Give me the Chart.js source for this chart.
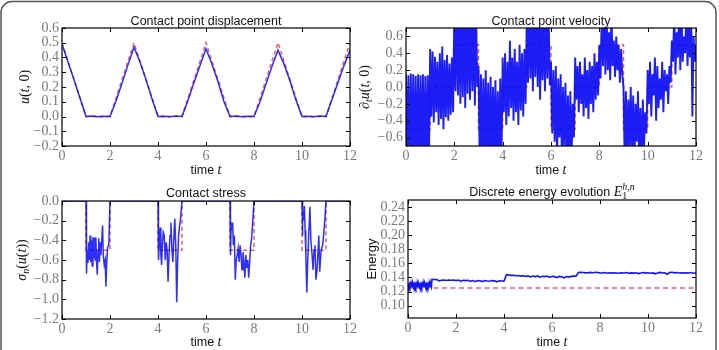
<!DOCTYPE html>
<html>
<head>
<meta charset="utf-8">
<script src="https://cdn.jsdelivr.net/npm/chart.js@4.4.0/dist/chart.umd.min.js"></script>
<style>
body { margin: 0; background: #fff; }
#wrap { position: relative; width: 719px; height: 350px; overflow: hidden; }
#wrap canvas { position: absolute; left: 0; top: 0; }
</style>
</head>
<body>
<div id="wrap">
<canvas id="c_disp" width="719" height="350"></canvas>
<canvas id="c_vel" width="719" height="350"></canvas>
<canvas id="c_stress" width="719" height="350"></canvas>
<canvas id="c_energy" width="719" height="350"></canvas>
</div>
<script>
const SANS = '"Liberation Sans", Arial, sans-serif'
const SERIF = '"Liberation Serif", "Times New Roman", serif'
const TICK_COLOR = '#7a7a7a'
const BLUE = 'rgba(0, 0, 255, 0.82)'
const BLUE_DENSE = 'rgba(10, 10, 245, 0.92)'
const BLUE_SOLID = '#1515f0'
const RED = 'rgba(228, 60, 60, 0.8)'

// shared time axis
const timeTicks = [0, 2, 4, 6, 8, 10, 12]

// contact point displacement, numeric every 0.25
const dispStep = 0.25
const dispNum = [
    0.49, 0.37, 0.25, 0.125, 0.0, 0.003, -0.002, 0.002,
    0.0, 0.105, 0.225, 0.35, 0.47, 0.37, 0.25, 0.12,
    0.0, 0.002, -0.002, 0.003, 0.0, 0.11, 0.23, 0.345,
    0.46, 0.355, 0.235, 0.10, 0.0, 0.003, -0.002, 0.002,
    0.0, 0.10, 0.22, 0.34, 0.45, 0.355, 0.24, 0.11,
    0.0, 0.002, -0.002, 0.003, 0.0, 0.115, 0.23, 0.345,
    0.45
]
const dispExactT = [0, 1, 2, 3, 4, 5, 6, 7, 8, 9, 10, 11, 12]
const dispExactU = [0.5, 0, 0, 0.5, 0, 0, 0.5, 0, 0, 0.5, 0, 0, 0.5]
const dispTicks = [-0.2, -0.1, 0, 0.1, 0.2, 0.3, 0.4, 0.5, 0.6]

// contact point velocity, one high and one low every 0.1
const velStep = 0.1
const velHigh = [
    0.15, 0.14, 0.16, 0.15, 0.13, 0.15, 0.14, 0.15, 0.13, 0.14,
    0.45, 0.42, 0.36, 0.30, 0.40, 0.48, 0.32, 0.38, 0.28, 0.35,
    0.90, 0.90, 0.90, 0.90, 0.90, 0.90, 0.90, 0.90, 0.90, 0.90,
    0.25, 0.15, 0.10, 0.20, 0.05, 0.12, 0.00, 0.08, -0.05, 0.10,
    0.35, 0.40, 0.30, 0.55, 0.35, 0.45, 0.30, 0.50, 0.40, 0.45,
    0.90, 0.90, 0.90, 0.90, 0.90, 0.90, 0.90, 0.90, 0.90, 0.90,
    0.30, 0.20, 0.25, 0.10, 0.15, 0.00, 0.05, -0.10, -0.05, -0.20,
    0.35, 0.25, 0.30, 0.15, 0.35, 0.20, 0.30, 0.25, 0.40, 0.30,
    0.50, 0.90, 0.90, 0.90, 0.65, 0.90, 0.55, 0.60, 0.50, 0.45,
    0.00, -0.05, -0.15, 0.00, -0.10, -0.20, -0.05, -0.25, -0.15, -0.30,
    0.20, 0.30, 0.15, 0.35, 0.25, 0.10, 0.30, 0.20, 0.15, 0.25,
    0.55, 0.90, 0.65, 0.90, 0.90, 0.60, 0.90, 0.70, 0.90, 0.60
]
const velLow = [
    -0.90, -0.90, -0.90, -0.90, -0.90, -0.90, -0.90, -0.90, -0.90, -0.90,
    -0.35, -0.42, -0.30, -0.45, -0.38, -0.50, -0.36, -0.40, -0.33, -0.30,
    -0.05, -0.10, -0.20, -0.12, -0.25, -0.08, -0.15, -0.05, -0.22, 0.00,
    -0.90, -0.90, -0.90, -0.90, -0.90, -0.90, -0.90, -0.90, -0.90, -0.90,
    -0.30, -0.45, -0.35, -0.25, -0.40, -0.30, -0.45, -0.28, -0.35, -0.20,
    0.05, 0.10, -0.05, 0.12, 0.00, -0.15, 0.08, -0.05, 0.10, 0.02,
    -0.55, -0.65, -0.90, -0.60, -0.90, -0.70, -0.90, -0.90, -0.90, -0.60,
    -0.15, -0.30, -0.20, -0.35, -0.25, -0.38, -0.20, -0.30, -0.15, -0.10,
    0.10, 0.25, 0.15, 0.20, 0.08, 0.25, 0.12, 0.20, 0.05, 0.15,
    -0.90, -0.90, -0.70, -0.90, -0.90, -0.65, -0.90, -0.90, -0.70, -0.55,
    -0.20, -0.35, -0.10, -0.40, -0.25, -0.15, -0.30, -0.05, -0.20, 0.05,
    0.30, 0.15, 0.35, 0.20, 0.30, 0.40, 0.25, 0.35, -0.35, 0.30
]
const velEnd = 0.5
const velExactT = [0, 1, 1, 2, 2, 3, 3, 4, 4, 5, 5, 6, 6, 7, 7, 8, 8, 9, 9, 10, 10, 11, 11, 12]
const velExactV = [-0.5, -0.5, 0, 0, 0.5, 0.5, -0.5, -0.5, 0, 0, 0.5, 0.5, -0.5, -0.5, 0, 0, 0.5, 0.5, -0.5, -0.5, 0, 0, 0.5, 0.5]
const velTicks = [-0.6, -0.4, -0.2, 0, 0.2, 0.4, 0.6]

// contact stress, [t, sigma]
const stressPts = [
    [0, 0], [1.00, 0],
    [1.02, -0.74], [1.05, -0.50], [1.08, -0.63], [1.11, -0.42], [1.14, -0.60], [1.17, -0.35],
    [1.20, -0.62], [1.23, -0.40], [1.26, -0.66], [1.29, -0.37], [1.32, -0.58], [1.35, -0.37],
    [1.38, -0.60], [1.41, -0.37], [1.44, -0.62], [1.47, -0.75], [1.50, -0.50], [1.53, -0.38],
    [1.56, -0.62], [1.59, -0.42], [1.62, -0.55], [1.66, -0.38], [1.69, -0.25], [1.72, -0.55],
    [1.76, -0.65], [1.80, -0.60], [1.83, -0.87], [1.86, -0.65], [1.90, -0.47], [1.95, -0.45],
    [2.00, 0], [4.00, 0],
    [4.02, -0.60], [4.06, -0.40], [4.09, -0.27], [4.12, -0.55], [4.15, -0.65], [4.18, -0.45],
    [4.22, -0.32], [4.26, -0.35], [4.30, -0.60], [4.34, -0.42], [4.38, -0.50], [4.42, -0.82],
    [4.46, -0.55], [4.50, -0.35], [4.54, -0.22], [4.58, -0.50], [4.62, -0.62], [4.66, -0.38],
    [4.70, -0.18], [4.74, -0.45], [4.78, -1.03], [4.82, -0.60], [4.86, -0.35], [4.90, -0.25],
    [4.93, -0.20], [4.96, -0.12], [5.00, 0], [7.00, 0],
    [7.02, -0.55], [7.05, -0.22], [7.08, -0.30], [7.11, -0.22], [7.14, -0.45], [7.18, -0.35],
    [7.22, -0.80], [7.26, -0.60], [7.30, -0.55], [7.34, -0.48], [7.38, -0.62], [7.42, -0.45],
    [7.46, -0.55], [7.50, -0.70], [7.54, -0.52], [7.58, -0.62], [7.62, -0.78], [7.66, -0.55],
    [7.70, -0.68], [7.74, -0.60], [7.78, -0.78], [7.82, -0.62], [7.86, -0.45], [7.90, -0.38],
    [7.95, -0.20], [8.00, 0], [10.00, 0],
    [10.01, -0.35], [10.04, -0.10], [10.07, -0.20], [10.10, -0.05], [10.13, -0.30], [10.16, -0.55],
    [10.20, -0.93], [10.24, -0.60], [10.28, -0.35], [10.33, -0.06], [10.37, -0.40], [10.42, -0.55],
    [10.46, -0.70], [10.50, -0.50], [10.54, -0.45], [10.58, -0.80], [10.62, -0.72], [10.66, -0.55],
    [10.70, -0.35], [10.74, -0.72], [10.78, -0.55], [10.82, -0.48], [10.86, -0.45], [10.90, -0.35],
    [10.95, -0.20], [11.00, 0], [12, 0]
]
const stressExactT = [0, 1, 1, 2, 2, 4, 4, 5, 5, 7, 7, 8, 8, 10, 10, 11, 11, 12]
const stressExactV = [0, 0, -0.5, -0.5, 0, 0, -0.5, -0.5, 0, 0, -0.5, -0.5, 0, 0, -0.5, -0.5, 0, 0]
const stressTicks = [-1.2, -1.0, -0.8, -0.6, -0.4, -0.2, 0]

// discrete energy: dense band on [0,1) every 0.025, then every 0.1 from t = 1
const energyBandStep = 0.025
const energyBand = [
    0.1305, 0.1268, 0.1303, 0.1270, 0.1306, 0.1268, 0.1302, 0.1271, 0.1305, 0.1268,
    0.1304, 0.1269, 0.1306, 0.1268, 0.1303, 0.1270, 0.1305, 0.1268, 0.1302, 0.1271,
    0.1304, 0.1267, 0.1305, 0.1270, 0.1303, 0.1269, 0.1306, 0.1268, 0.1302, 0.1270,
    0.1305, 0.1268, 0.1304, 0.1271, 0.1303, 0.1268, 0.1306, 0.1269, 0.1302, 0.1270
]
const energyRestStart = 1.0
const energyRestStep = 0.1
const energyRest = [
    0.1375, 0.1372, 0.1370, 0.1352, 0.1362, 0.1365, 0.1358, 0.1364, 0.1360, 0.1362,
    0.1358, 0.1363, 0.1348, 0.1360, 0.1355, 0.1360, 0.1345, 0.1357, 0.1340, 0.1358,
    0.1355, 0.1342, 0.1357, 0.1350, 0.1346, 0.1356, 0.1352, 0.1338, 0.1354, 0.1350,
    0.1348, 0.1440, 0.1435, 0.1430, 0.1432, 0.1425, 0.1428, 0.1420, 0.1424, 0.1415,
    0.1422, 0.1408, 0.1420, 0.1412, 0.1422, 0.1405, 0.1418, 0.1412, 0.1420, 0.1402,
    0.1418, 0.1412, 0.1398, 0.1416, 0.1410, 0.1395, 0.1414, 0.1406, 0.1416, 0.1420,
    0.1418, 0.1470, 0.1474, 0.1470, 0.1465, 0.1468, 0.1472, 0.1468, 0.1474, 0.1470,
    0.1466, 0.1464, 0.1470, 0.1460, 0.1467, 0.1462, 0.1468, 0.1464, 0.1460, 0.1466,
    0.1464, 0.1470, 0.1460, 0.1465, 0.1462, 0.1468, 0.1456, 0.1464, 0.1470, 0.1462,
    0.1467, 0.1460, 0.1465, 0.1452, 0.1464, 0.1472, 0.1464, 0.1468, 0.1447, 0.1470,
    0.1474, 0.1466, 0.1470, 0.1463, 0.1468, 0.1462, 0.1467, 0.1464, 0.1470, 0.1460,
    0.1464
]
const energyExact = 0.125
const energyTicks = [0.10, 0.12, 0.14, 0.16, 0.18, 0.20, 0.22, 0.24]

function pts(xs, ys) {
    return xs.map((x, i) => ({ x: x, y: ys[i] }))
}

function stepped(start, step, ys) {
    return ys.map((y, i) => ({ x: +(start + i * step).toFixed(4), y: y }))
}

function fmt(v, d) {
    let s = Math.abs(v).toFixed(d)
    if (v < -1e-9) s = '\u2212' + s
    return s
}

let velPts = []
for (let i = 0; i < velHigh.length; i++) {
    velPts.push({ x: +(i * velStep).toFixed(3), y: velHigh[i] })
    velPts.push({ x: +(i * velStep + velStep / 2).toFixed(3), y: velLow[i] })
}
velPts.push({ x: 12, y: velEnd })

let energyPts = stepped(0, energyBandStep, energyBand).concat(stepped(energyRestStart, energyRestStep, energyRest))

// text pieces
const F_TITLE = '12.5px ' + SANS
const F_SANS = '12.5px ' + SANS
const F_IT = 'italic 14px ' + SERIF
const F_RM = '14px ' + SERIF
const F_SUB = 'italic 10px ' + SERIF
const F_SUBRM = '10px ' + SERIF

function drawRich(ctx, parts, x, y, rotate) {
    ctx.save()
    ctx.translate(x, y)
    if (rotate) ctx.rotate(-Math.PI / 2)
    ctx.textBaseline = 'alphabetic'
    ctx.textAlign = 'left'
    ctx.fillStyle = '#111'
    let cx = 0, prev = 0
    for (let p of parts) {
        ctx.font = p.font
        p.w = ctx.measureText(p.text).width
        let sx = p.over ? prev : cx
        p.sx = sx
        if (!p.over) prev = cx
        cx = Math.max(cx, sx + p.w)
    }
    let x0 = -cx / 2
    for (let p of parts) {
        ctx.font = p.font
        ctx.fillText(p.text, x0 + p.sx, p.dy || 0)
    }
    ctx.restore()
}

const timeLabel = [{ text: 'time ', font: F_SANS }, { text: 't', font: F_IT }]

function framePlugin(texts, extra) {
    return {
        id: 'frame',
        afterDraw(chart) {
            const ctx = chart.ctx
            const a = chart.chartArea
            const xs = chart.scales.x, ys = chart.scales.y
            ctx.save()
            ctx.strokeStyle = '#000'
            ctx.lineWidth = 1.2
            ctx.strokeRect(a.left, a.top, a.right - a.left, a.bottom - a.top)
            ctx.lineWidth = 1
            ctx.beginPath()
            for (let t of xs.ticks) {
                let px = Math.round(xs.getPixelForValue(t.value)) + 0.5
                ctx.moveTo(px, a.bottom); ctx.lineTo(px, a.bottom - 4)
                ctx.moveTo(px, a.top); ctx.lineTo(px, a.top + 4)
            }
            for (let t of ys.ticks) {
                let py = Math.round(ys.getPixelForValue(t.value)) + 0.5
                ctx.moveTo(a.left, py); ctx.lineTo(a.left + 4, py)
                ctx.moveTo(a.right, py); ctx.lineTo(a.right - 4, py)
            }
            ctx.stroke()
            ctx.restore()
            for (let t of texts) drawRich(ctx, t.parts, t.x, t.y, t.rot)
            if (extra) extra(ctx)
        }
    }
}

function makePanel(id, o) {
    return new Chart(document.getElementById(id), {
        type: 'line',
        data: { datasets: o.datasets },
        options: {
            responsive: false,
            animation: false,
            events: [],
            layout: { padding: o.pad },
            plugins: { legend: { display: false }, tooltip: { enabled: false }, title: { display: false } },
            elements: { point: { radius: 0 }, line: { tension: 0 } },
            scales: {
                x: {
                    type: 'linear', min: 0, max: 12,
                    grid: { display: false, drawTicks: false },
                    border: { display: false },
                    afterBuildTicks: s => { s.ticks = timeTicks.map(v => ({ value: v })) },
                    afterFit: s => { s.height = 20 },
                    ticks: {
                        color: TICK_COLOR, font: { family: SERIF, size: 14 }, padding: 2,
                        maxRotation: 0, autoSkip: false, callback: v => fmt(v, 0)
                    }
                },
                y: {
                    type: 'linear', min: o.ymin, max: o.ymax,
                    grid: { display: false, drawTicks: false },
                    border: { display: false },
                    afterBuildTicks: s => { s.ticks = o.yticks.map(v => ({ value: v })) },
                    afterFit: s => { s.width = 40 },
                    ticks: {
                        color: TICK_COLOR, font: { family: SERIF, size: 14 }, padding: 3,
                        autoSkip: false, callback: v => fmt(v, o.dec)
                    }
                }
            }
        },
        plugins: [framePlugin(o.texts, o.extra)]
    })
}

function blueLine(data, w, color) {
    return { data: data, borderColor: color || BLUE, borderWidth: w || 1.5, order: 0, fill: false }
}
function redDash(data, dash) {
    return { data: data, borderColor: RED, borderWidth: 1.5, borderDash: dash || [4, 3], order: 1, fill: false }
}

makePanel('c_disp', {
    pad: { left: 22, top: 28, right: 369, bottom: 184 },
    ymin: -0.2, ymax: 0.6, yticks: dispTicks, dec: 1,
    datasets: [redDash(pts(dispExactT, dispExactU)), blueLine(stepped(0, dispStep, dispNum))],
    texts: [
        { parts: [{ text: 'Contact point displacement', font: F_TITLE }], x: 206, y: 24.5 },
        { parts: timeLabel, x: 206, y: 173.5 },
        { parts: [
            { text: 'u', font: F_IT }, { text: '(', font: F_RM }, { text: 't', font: F_IT },
            { text: ', 0)', font: F_RM }
        ], x: 29, y: 87, rot: true }
    ],
    extra: ctx => {
        ctx.save()
        ctx.strokeStyle = '#555'
        ctx.lineWidth = 1.5
        ctx.beginPath()
        ctx.roundRect(1, 1.5, 715, 400, 11)
        ctx.stroke()
        ctx.restore()
    }
})

makePanel('c_vel', {
    pad: { left: 366, top: 28, right: 23, bottom: 184 },
    ymin: -0.7, ymax: 0.7, yticks: velTicks, dec: 1,
    datasets: [redDash(pts(velExactT, velExactV)), blueLine(velPts, 1.9, BLUE_DENSE)],
    texts: [
        { parts: [{ text: 'Contact point velocity', font: F_TITLE }], x: 551, y: 24.5 },
        { parts: timeLabel, x: 551, y: 173.5 },
        { parts: [
            { text: '\u2202', font: F_RM }, { text: 't', font: F_SUB, dy: 3 },
            { text: 'u', font: F_IT }, { text: '(', font: F_RM }, { text: 't', font: F_IT },
            { text: ', 0)', font: F_RM }
        ], x: 369, y: 87, rot: true }
    ]
})

makePanel('c_stress', {
    pad: { left: 22, top: 201, right: 369, bottom: 11 },
    ymin: -1.2, ymax: 0, yticks: stressTicks, dec: 1,
    datasets: [redDash(pts(stressExactT, stressExactV)), blueLine(stressPts.map(p => ({ x: p[0], y: p[1] })))],
    texts: [
        { parts: [{ text: 'Contact stress', font: F_TITLE }], x: 206, y: 196.5 },
        { parts: timeLabel, x: 206, y: 346 },
        { parts: [
            { text: '\u03c3', font: F_IT }, { text: 'n', font: F_SUB, dy: 3 },
            { text: '(', font: F_RM }, { text: 'u', font: F_IT }, { text: '(', font: F_RM },
            { text: 't', font: F_IT }, { text: '))', font: F_RM }
        ], x: 26, y: 260, rot: true }
    ]
})

makePanel('c_energy', {
    pad: { left: 368, top: 200, right: 23, bottom: 12 },
    ymin: 0.0825, ymax: 0.25, yticks: energyTicks, dec: 2,
    datasets: [
        redDash([{ x: 0, y: energyExact }, { x: 12, y: energyExact }], [5, 3.5]),
        blueLine(energyPts, 1.6, BLUE_SOLID)
    ],
    texts: [
        { parts: [
            { text: 'Discrete energy evolution ', font: F_TITLE }, { text: 'E', font: F_IT },
            { text: '1', font: F_SUBRM, dy: 3 }, { text: 'h,n', font: F_SUB, dy: -6, over: true }
        ], x: 552, y: 195.5 },
        { parts: timeLabel, x: 552, y: 345.5 },
        { parts: [{ text: 'Energy', font: '13px ' + SANS }], x: 375.5, y: 259, rot: true }
    ]
})
</script>
</body>
</html>
